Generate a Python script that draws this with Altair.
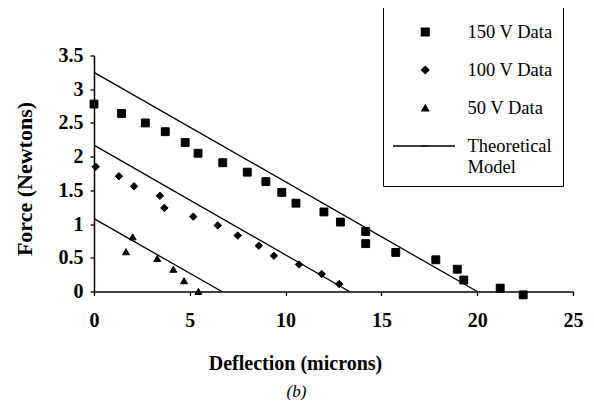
import altair as alt
import pandas as pd

# ---- data ----
x150 = [0.0, 1.44, 2.68, 3.72, 4.76, 5.43, 6.72, 8.0, 8.97, 9.8, 10.54, 12.0, 12.86,
        14.18, 14.18, 15.75, 17.84, 18.96, 19.3, 21.2, 22.4]
y150 = [2.78, 2.64, 2.50, 2.37, 2.21, 2.05, 1.91, 1.77, 1.63, 1.47, 1.31, 1.18, 1.03,
        0.89, 0.71, 0.58, 0.47, 0.33, 0.17, 0.05, -0.05]

x100 = [0.09, 1.30, 2.09, 3.44, 3.67, 5.18, 6.46, 7.5, 8.6, 9.39, 10.7, 11.88, 12.8]
y100 = [1.85, 1.71, 1.56, 1.42, 1.24, 1.11, 0.98, 0.83, 0.68, 0.53, 0.40, 0.26, 0.11]

x50 = [1.67, 2.02, 3.3, 4.14, 4.70, 5.45]
y50 = [0.59, 0.81, 0.49, 0.33, 0.16, 0.0]

# theoretical model lines: force at zero deflection, deflection at zero force
model_series = ["150 V", "100 V", "50 V"]
model_f0 = [3.25, 2.17, 1.08]
model_d0 = [20.0, 13.33, 6.67]

legend_labels = ["150 V Data", "100 V Data", "50 V Data", "Theoretical Model"]
x_ticks = [0, 5, 10, 15, 20, 25]
y_ticks = [0, 0.5, 1, 1.5, 2, 2.5, 3, 3.5]

# ---- tables ----
pts = pd.concat([
    pd.DataFrame({"x": x150, "y": y150, "series": legend_labels[0]}),
    pd.DataFrame({"x": x100, "y": y100, "series": legend_labels[1]}),
    pd.DataFrame({"x": x50, "y": y50, "series": legend_labels[2]}),
], ignore_index=True)

rows = []
for s, f0, d0 in zip(model_series, model_f0, model_d0):
    rows.append({"x": 0.0, "y": f0, "line": s, "model": legend_labels[3]})
    rows.append({"x": d0, "y": 0.0, "line": s, "model": legend_labels[3]})
lines = pd.DataFrame(rows)

SERIF = "Liberation Serif"

xscale = alt.Scale(domain=[0, 25], nice=False, zero=False)
yscale = alt.Scale(domain=[0, 3.5], nice=False, zero=False)

xaxis = alt.Axis(values=x_ticks, title="Deflection (microns)", grid=False,
                 labelFont=SERIF, labelFontSize=20, labelFontWeight="bold",
                 labelPadding=15, tickSize=4, labelFlush=False, labelOverlap=False,
                 titleFont=SERIF, titleFontSize=20, titleFontWeight="bold",
                 titleX=201, titleY=72, titleAlign="center", titleBaseline="middle")
yaxis = alt.Axis(values=y_ticks, format="~g", title="Force (Newtons)", grid=False,
                 labelFont=SERIF, labelFontSize=20, labelFontWeight="bold",
                 labelPadding=7, tickSize=4, labelFlush=False, labelOverlap=False,
                 titleFont=SERIF, titleFontSize=22, titleFontWeight="bold",
                 titleAngle=270, titleX=-70, titleY=123, titleAlign="center",
                 titleBaseline="middle")

# boxed legend with all four labels
legend_box = alt.Legend(
    title=None, orient="none", legendX=289, legendY=-48.5, zindex=1,
    padding=10, strokeColor="black", fillColor="white",
    labelFont=SERIF, labelFontSize=18.5, labelOffset=33, labelColor="black",
    labelExpr="datum.label == 'Theoretical Model' ? ['Theoretical', 'Model'] : datum.label",
    symbolOffset=23, symbolStrokeWidth=1.2, clipHeight=30, rowPadding=8,
    labelLimit=200,
)

# long line sample for the theoretical model, drawn inside the box
legend_line = alt.Legend(
    title=None, orient="none", legendX=298, legendY=58.5, zindex=2,
    padding=0, labelExpr="''", symbolType="stroke", symbolSize=3844,
    symbolStrokeWidth=1.3, symbolStrokeColor="black",
)

points = alt.Chart(pts).mark_point(filled=False, fill="black", stroke="black",
                                   strokeWidth=1, opacity=1).encode(
    x=alt.X("x:Q", scale=xscale, axis=xaxis),
    y=alt.Y("y:Q", scale=yscale, axis=yaxis),
    shape=alt.Shape("series:N",
                    scale=alt.Scale(domain=legend_labels,
                                    range=["square", "diamond", "triangle-up", "stroke"]),
                    legend=legend_box),
    size=alt.Size("series:N",
                  scale=alt.Scale(domain=legend_labels, range=[62, 42, 45, 1]),
                  legend=legend_box),
)

model = alt.Chart(lines).mark_line(strokeWidth=1.3).encode(
    x=alt.X("x:Q", scale=xscale, axis=xaxis),
    y=alt.Y("y:Q", scale=yscale, axis=yaxis),
    detail="line:N",
    color=alt.Color("model:N", scale=alt.Scale(range=["black"]), legend=legend_line),
)

chart = alt.layer(model, points).properties(
    width=479, height=236,
    padding={"left": 86, "top": 47.5, "right": 13, "bottom": 108.5},
    autosize=alt.AutoSizeParams(type="none"),
    background="white",
    title=alt.TitleParams(text="(b)", orient="bottom", anchor="middle",
                          font=SERIF, fontSize=17, fontStyle="italic",
                          fontWeight="normal", dx=-37, offset=10, color="black"),
).configure_view(stroke=None).configure_axis(
    domainColor="black", domainWidth=1.5, tickColor="black", tickWidth=1.3,
    labelColor="black", titleColor="black"
)

chart.save("out.html", embed_options={"renderer": "svg", "actions": False})
